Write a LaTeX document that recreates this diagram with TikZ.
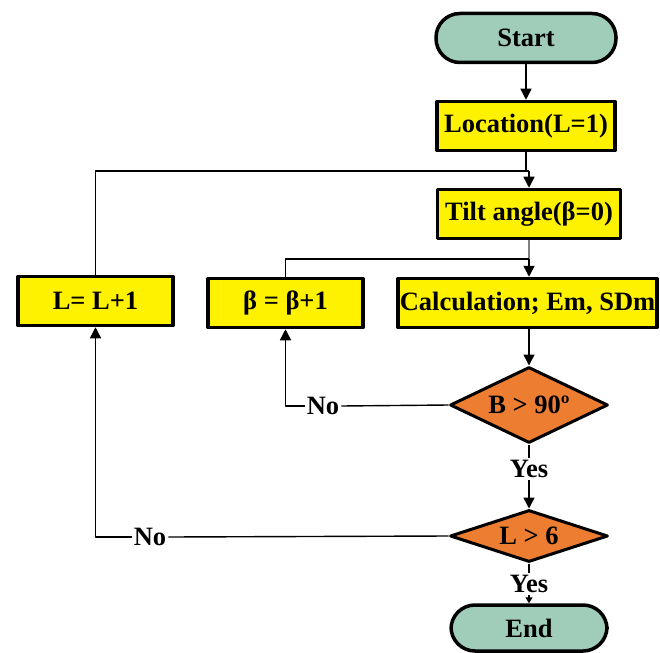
\documentclass[tikz,border=0pt]{standalone}
\usepackage{fontspec}
\setmainfont{Liberation Serif}
\usetikzlibrary{shapes.geometric,arrows.meta}
\definecolor{termfill}{HTML}{A0CCBA}
\definecolor{decfill}{HTML}{ED7D31}
\begin{document}
\begin{tikzpicture}[x=1pt,y=-1pt,line join=round,>={Triangle[length=11pt,width=11pt]},font=\fontsize{26.5}{30}\selectfont\bfseries]
	\tikzset{term/.style={draw,line width=3.5pt,fill=termfill,rounded corners=24pt,minimum height=49pt,inner sep=0pt},
		proc/.style={draw,line width=3.5pt,fill=yellow,minimum height=49pt,inner sep=0pt},
		dec/.style={draw,diamond,aspect=2,line width=3pt,fill=decfill,inner sep=0pt},
		lbl/.style={inner sep=1.5pt},
		every path/.style={line width=1.4pt}}
	\useasboundingbox (0,0) rectangle (660,652);
	\node[term,minimum width=180pt] (start) at (526,38) {Start};
	\node[proc,minimum width=178pt] (loc) at (526,126) {Location(L=1)};
	\node[proc,minimum width=183pt] (tilt) at (529,214) {Tilt angle(β=0)};
	\node[proc,minimum width=155pt] (linc) at (95.5,301) {L= L+1};
	\node[proc,minimum width=155pt] (binc) at (285.5,303) {β = β+1};
	\node[proc,minimum width=259pt] (calc) at (527.5,303) {Calculation; Em, SDm};
	\node[dec,minimum width=158pt,minimum height=76pt] (bchk) at (529,405) {B > 90º};
	\node[dec,minimum width=158pt,minimum height=52pt] (lchk) at (529,536) {L > 6};
	\node[term,minimum width=156pt,minimum height=46pt] (end) at (529,628) {End};
	\node[lbl] (no1) at (323,406) {No};
	\node[lbl] (no2) at (150,537) {No};
	\node[lbl] (yes1) at (529,469) {Yes};
	\node[lbl] (yes2) at (529,584) {Yes};
	\coordinate (j1) at (529,171);
	\coordinate (j2) at (529,259);
	\draw[->] (start.south) -- (loc.north);
	\draw (loc.south) |- (j1);
	\draw (linc.north) |- (j1);
	\draw[->] (j1) -- (tilt.north);
	\draw[gray] (tilt.south) -- (j2);
	\draw (binc.north) |- (j2);
	\draw[->] (j2) -- (j2 |- calc.north);
	\draw[->] (bchk.north |- calc.south) -- (bchk.north);
	\draw (bchk.west) -- (no1.east);
	\draw[->] (no1.west) -| (binc.south);
	\draw (bchk.south) -- (yes1.north);
	\draw[->] (yes1.south) -- (lchk.north);
	\draw (lchk.west) -- (no2.east);
	\draw[->] (no2.west) -| (linc.south);
	\draw (lchk.south) -- (yes2.north);
	\draw[-{Triangle[length=6pt,width=7pt]}] (yes2.south) -- (end.north);
\end{tikzpicture}
\end{document}
